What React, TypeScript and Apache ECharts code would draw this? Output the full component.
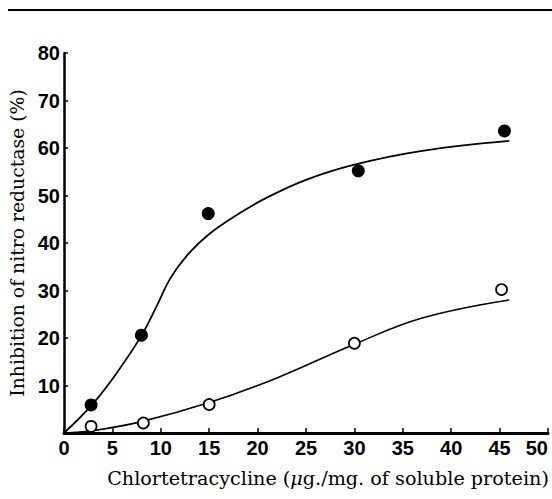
import React, { useEffect, useRef } from "react";
import * as echarts from "echarts";

const xTicks = [0, 5, 10, 15, 20, 25, 30, 35, 40, 45, 50];
const yTicks = [0, 10, 20, 30, 40, 50, 60, 70, 80];

// measured points (filled circles)
const filledPoints: [number, number][] = [
  [2.8, 5.9],
  [8.0, 20.6],
  [14.9, 46.2],
  [30.4, 55.2],
  [45.5, 63.6],
];
// measured points (open circles)
const openPoints: [number, number][] = [
  [2.8, 1.4],
  [8.2, 2.1],
  [15.0, 6.0],
  [30.0, 18.9],
  [45.2, 30.2],
];
// fitted curve
const filledCurve: [number, number][] = [
  [0, 0], [3, 6.2], [5.5, 12.8], [8, 20.5], [9.5, 26.4], [11, 32.6], [12.8, 37.6],
  [15, 41.9], [18, 46.1], [21, 49.6], [25, 53.3], [30, 56.5], [37, 59.4], [46, 61.5],
];
const openCurve: [number, number][] = [
  [0, 0], [3, 0.5], [8, 2.4], [15, 6.4], [22, 11.6], [30, 18.7],
  [37, 24.2], [46, 28.0],
];

const yTitle = "Inhibition of nitro reductase (%)";
const xTitleParts = ["Chlortetracycline (", "μ", "g./mg. of soluble protein)"];

export default function App() {
  const ref = useRef<HTMLDivElement>(null);
  useEffect(() => {
    document.body.style.margin = "0";
    const chart = echarts.init(ref.current!, null, { renderer: "svg" });
    const labelFont = {
      fontFamily: "'Liberation Sans Narrow', 'Liberation Sans'",
      fontWeight: "bold" as const,
      fontSize: 20,
      color: "#000",
    };
    chart.setOption({
      animation: false,
      backgroundColor: "#fff",
      grid: { left: 64, right: 4, top: 53, bottom: 66, containLabel: false, outerBoundsMode: "none" },
      xAxis: {
        type: "value",
        min: xTicks[0],
        max: xTicks[xTicks.length - 1],
        interval: 5,
        axisLine: { show: true, onZero: false, lineStyle: { color: "#000", width: 3 } },
        axisTick: { show: true, inside: true, length: 5, lineStyle: { color: "#000", width: 1.5 } },
        axisLabel: { ...labelFont, margin: 5, alignMaxLabel: "right" },
        splitLine: { show: false },
      },
      yAxis: {
        type: "value",
        min: yTicks[0],
        max: yTicks[yTicks.length - 1],
        interval: 10,
        name: yTitle,
        nameLocation: "middle",
        nameGap: 36,
        nameRotate: 90,
        nameTextStyle: { fontFamily: "DejaVu Serif", fontSize: 18.8, color: "#000" },
        axisLine: { show: true, onZero: false, lineStyle: { color: "#000", width: 2.5 } },
        axisTick: { show: true, inside: true, length: 4, lineStyle: { color: "#000", width: 1.5 } },
        axisLabel: { ...labelFont, margin: 4, formatter: (v: number) => (v === 0 ? "" : String(v)) },
        splitLine: { show: false },
      },
      graphic: [
        {
          type: "line",
          shape: { x1: 8, y1: 10, x2: 552, y2: 10 },
          style: { stroke: "#000", lineWidth: 2 },
        },
        {
          type: "text",
          x: 328,
          y: 478,
          style: {
            text: `{a|${xTitleParts[0]}}{i|${xTitleParts[1]}}{a|${xTitleParts[2]}}`,
            rich: {
              a: { fontFamily: "DejaVu Serif", fontSize: 19.2, fill: "#000" },
              i: { fontFamily: "DejaVu Serif", fontStyle: "italic", fontSize: 19.2, fill: "#000" },
            },
            align: "center",
            verticalAlign: "middle",
          },
        },
      ],
      series: [
        {
          type: "line",
          data: filledCurve,
          smooth: 0.4,
          showSymbol: false,
          lineStyle: { color: "#000", width: 1.8 },
          z: 2,
        },
        {
          type: "line",
          data: openCurve,
          smooth: 0.4,
          showSymbol: false,
          lineStyle: { color: "#000", width: 1.6 },
          z: 2,
        },
        {
          type: "scatter",
          data: filledPoints,
          symbol: "circle",
          symbolSize: 13,
          itemStyle: { color: "#000", opacity: 1 },
          z: 3,
        },
        {
          type: "scatter",
          data: openPoints,
          symbol: "circle",
          symbolSize: 11,
          itemStyle: { color: "#fff", borderColor: "#000", borderWidth: 1.7, opacity: 1 },
          z: 3,
        },
      ],
    });
    return () => chart.dispose();
  }, []);
  return <div ref={ref} style={{ width: 552, height: 499 }} />;
}
